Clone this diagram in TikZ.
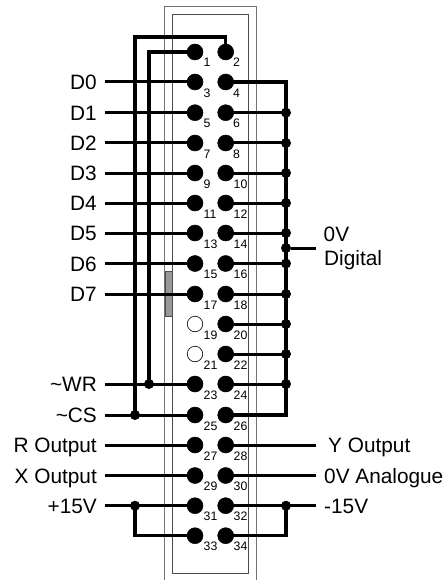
\documentclass[tikz,border=0pt]{standalone}
\usepackage{fontspec}
\setmainfont{Liberation Sans}
\tikzset{
  x=1pt,y=-1pt,
  pinon/.style={circle,fill=black,draw=black,line width=0.5pt,minimum size=16pt,inner sep=0pt},
  pinoff/.style={circle,fill=white,draw=black,line width=0.6pt,minimum size=15.5pt,inner sep=0pt},
  num/.style={font=\fontsize{12.3}{12}\selectfont,inner sep=0pt,text=black,anchor=base west},
  lbl/.style={font=\fontsize{20.8}{21}\selectfont,inner sep=0pt},
  wire/.style={line width=3pt,line cap=butt},
  thick wire/.style={line width=3.2pt},
  junct/.style={circle,fill=black,minimum size=10pt,inner sep=0pt},
  outer/.style={draw=black!55,line width=1pt},
  inner/.style={draw=black!70,line width=0.8pt},
}
\begin{document}
\begin{tikzpicture}
\useasboundingbox (0,0) rectangle (447,580);
% housing
\draw[outer] (164.5,580) -- (164.5,7) -- (256,7) -- (256,580);
\draw[inner] (172.5,14) rectangle (248.5,573.5);
\node[draw=black!70,fill=black!40,line width=0.6pt,minimum width=7pt,minimum height=45pt,inner sep=0pt] (key) at (168.7,293.5) {};
% labels and their wires
\foreach \t/\s/\y in {D0/3/82,D1/5/112.7,D2/7/143,D3/9/173,D4/11/203,D5/13/233,D6/15/263.5,D7/17/294,{\char"007E WR}/23/384,{\char"007E CS}/25/415,R Output/27/445,X Output/29/475.5,+15V/31/505.7}
  {\node[lbl,anchor=base east] (l\s) at (97,\y+7.7) {\t};
   \coordinate (c\s) at (104.5,\y);
   \coordinate (p\s) at (195,\y);
   \draw[wire] (c\s) -- (p\s);}
\foreach \t/\s/\y/\x in {Y Output/28/445/328,0V Analogue/30/475.5/324,-15V/32/505.7/324}
  {\node[lbl,anchor=base west] (l\s) at (\x,\y+7.7) {\t};
   \coordinate (c\s) at (316,\y);
   \coordinate (p\s) at (225.7,\y);
   \draw[wire] (p\s) -- (c\s);}
\node[lbl,anchor=base west] (v0) at (323.5,241.7) {0V};
\node[lbl,anchor=base west] (dig) at (324,265) {Digital};
% ground bus
\coordinate (b0) at (286,248);
\coordinate (b0e) at (316,248);
\foreach \s/\y in {2/52,4/82,6/112.7,8/143,10/173,12/203,14/233,16/263.5,18/294,20/324,22/354,24/384,26/415,34/535.7}
  \coordinate (p\s) at (225.7,\y);
\coordinate (p1) at (195,52);
\coordinate (p33) at (195,535.7);
\draw[thick wire,line join=miter] (p4) -- (p4 -| b0) -- (p26 -| b0) -- (p26);
\foreach \s in {6,8,10,12,14,16,18,20,22,24}
  {\draw[wire] (p\s) -- (p\s -| b0) node[junct] (j\s) {};}
\node[junct] (j0) at (b0) {};
\draw[wire] (j0) -- (b0e);
% control wires
\coordinate (tl) at (135,37);
\draw[thick wire,line join=miter] (p2) -- (p2 |- tl) -- (tl) -- (p25 -| tl) node[junct] (jcs) {};
\draw[thick wire,line join=miter] (p1) -- (149,52) -- (149,384) node[junct] (jwr) {};
% supply links
\draw[thick wire,line join=miter] (135,505.7) node[junct] (jp) {} -- (135,535.7) -- (p33);
\draw[thick wire,line join=miter] (286,505.7) node[junct] (jm) {} -- (286,535.7) -- (p34);
% pins
\foreach \n/\y in {1/52,3/82,5/112.7,7/143,9/173,11/203,13/233,15/263.5,17/294,23/384,25/415,27/445,29/475.5,31/505.7,33/535.7}
  \node[pinon] (q\n) at (195,\y) {};
\node[pinoff] (q19) at (195,324) {};
\node[pinoff] (q21) at (195,354) {};
\foreach \n/\y in {2/52,4/82,6/112.7,8/143,10/173,12/203,14/233,16/263.5,18/294,20/324,22/354,24/384,26/415,28/445,30/475.5,32/505.7,34/535.7}
  \node[pinon] (q\n) at (225.7,\y) {};
% pin numbers
\foreach \n/\y in {1/67,3/97.5,5/128,7/158,9/188,11/218,13/248,15/278.5,17/309,19/339,21/369,23/399,25/430,27/460,29/490.5,31/520.7,33/550.7}
  \node[num] (n\n) at (203.5,\y) {\n};
\foreach \n/\y in {2/67,4/97.5,6/128,8/158}
  \node[num] (n\n) at (233,\y) {\n};
\foreach \n/\y in {10/188,12/218,14/248,16/278.5,18/309,20/339,22/369,24/399,26/430,28/460,30/490.5,32/520.7,34/550.7}
  \node[num] (n\n) at (233.5,\y) {\n};
\end{tikzpicture}
\end{document}
